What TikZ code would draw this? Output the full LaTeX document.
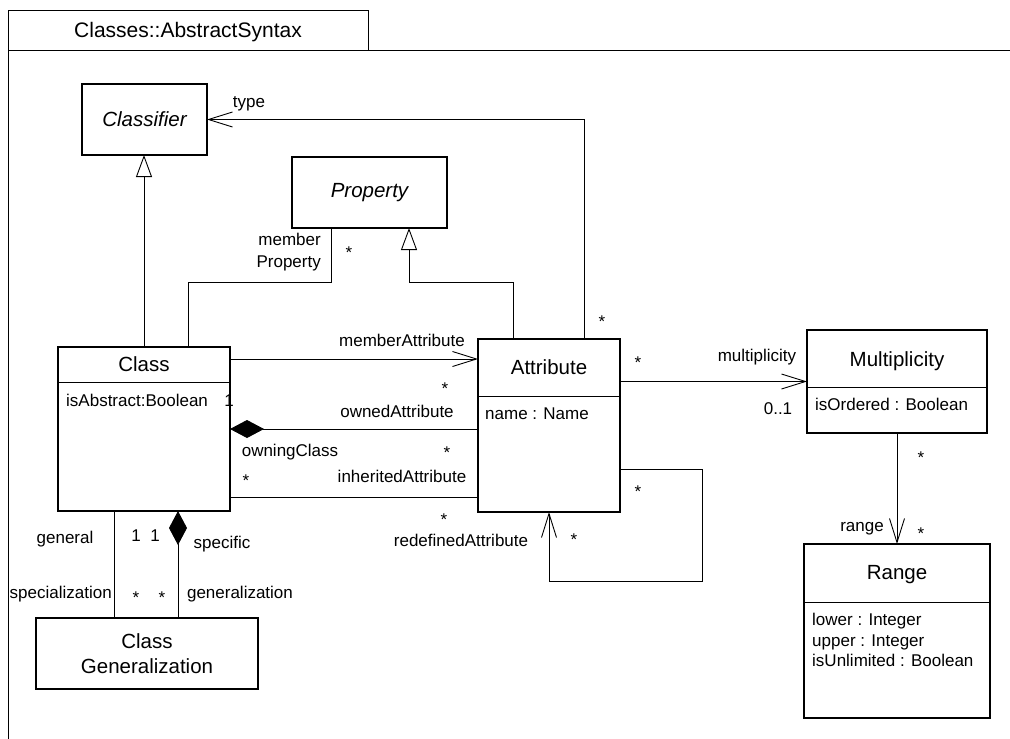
\documentclass[tikz,border=0pt]{standalone}
\usepackage{fontspec}
\setmainfont{Liberation Sans}
\usetikzlibrary{positioning}
\usetikzlibrary{arrows.meta}

\begin{document}
\begin{tikzpicture}[x=1pt, y=-1pt,
  box/.style={draw, line width=1.4pt, anchor=north west, inner sep=0, outer sep=0,
    align=center, font=\fontsize{20.5}{24.6}\selectfont},
  abox/.style={box, font=\itshape\fontsize{20.5}{24.6}\selectfont},
  cname/.style={inner sep=0, anchor=base, font=\fontsize{20.5}{24.6}\selectfont},
  lbl/.style={inner sep=0, anchor=base, font=\fontsize{17}{20.5}\selectfont},
  attrtxt/.style={lbl, anchor=base west},
  compsep/.style={line width=0.9pt},
  frame/.style={line width=0.9pt},
  conn/.style={draw, line width=0.9pt},
  gen/.style={conn, -{Triangle[open, length=22pt, width=16pt]}},
  nav/.style={conn, -{Straight Barb[length=24pt, width=15pt]}},
  compo/.style={conn, {Diamond[length=34pt, width=18pt]}-}]
  \useasboundingbox (0,0) rectangle (1010,739);

  % package frame
  \node[draw, line width=0.9pt, anchor=north west, minimum width=360, minimum height=40,
    inner sep=0, outer sep=0, text depth=0pt, font=\fontsize{21}{25}\selectfont]
    (tab) at (8,10) {Classes::AbstractSyntax};
  \draw[frame] (8,739) -- (tab.south west) -- (1010,50);

  % classes
  \node[abox, minimum width=125, minimum height=71] (classifier) at (82,84) {Classifier};
  \node[abox, minimum width=155, minimum height=71] (prop) at (292,157) {Property};
  \node[box, minimum width=172, minimum height=164] (class) at (58,347) {};
  \node[box, minimum width=142, minimum height=173] (attr) at (478,339) {};
  \node[box, minimum width=180, minimum height=103] (mult) at (807,330) {};
  \node[box, minimum width=186, minimum height=174] (range) at (804,544) {};
  \node[box, minimum width=222, minimum height=71] (cg) at (36,618) {Class\\Generalization};

  \draw[compsep] ([yshift=-35]class.north west) -- ([yshift=-35]class.north east);
  \draw[compsep] ([yshift=-57]attr.north west) -- ([yshift=-57]attr.north east);
  \draw[compsep] ([yshift=-57]mult.north west) -- ([yshift=-57]mult.north east);
  \draw[compsep] ([yshift=-58]range.north west) -- ([yshift=-58]range.north east);

  \node[cname] (classTitle) at (144,371) {Class};
  \node[cname] (attrTitle) at (549,374) {Attribute};
  \node[cname] (multTitle) at (897,366) {Multiplicity};
  \node[cname] (rangeTitle) at (897,579) {Range};

  \node[attrtxt] (classAttr) at (66,406) {isAbstract:Boolean};
  \node[attrtxt] (attrAttr) at (485,419) {name : Name};
  \node[attrtxt] (multAttr) at (815,410) {isOrdered : Boolean};
  \foreach \txt [count=\i] in {lower : Integer, upper : Integer, isUnlimited : Boolean}
    \node[attrtxt] (rangeAttr\i) at (812,605.2+20.5*\i) {\txt};

  % connectors
  \coordinate (ma) at ([yshift=-12]class.north east);
  \coordinate (ia) at ([yshift=-68]class.east);
  \coordinate (ge) at ([xshift=-30]class.south);
  \coordinate (sp) at ([xshift=34]class.south);

  \draw[gen] (class.north) -- (class.north |- classifier.south);
  \draw[conn] ([xshift=44]class.north) |- ([xshift=39,yshift=-54]prop.south west)
    -- ([xshift=39]prop.south west);
  \draw[gen] ([xshift=-36]attr.north) |- ([xshift=117,yshift=-54]prop.south west)
    -- ([xshift=117]prop.south west);
  \draw[nav] ([xshift=35]attr.north) |- (classifier.east);
  \draw[nav] (ma) -- (ma -| attr.west);
  \draw[compo] (class.east) -- (class.east -| attr.west);
  \draw[conn] (ia) -- (ia -| attr.west);
  \draw[nav] ([yshift=-43.5]attr.east) -- ++(82,0) -- ++(0,112) -| (attr.south);
  \draw[nav] (attr.east |- mult.west) -- (mult.west);
  \draw[nav] (mult.south) -- (range.north);
  \draw[conn] (ge) -- (ge |- cg.north);
  \draw[compo] (sp) -- (sp |- cg.north);

  % role names and multiplicities
  \node[lbl] (lType) at (249,107) {type};
  \node[lbl] (mType) at (602,327) {*};
  \node[lbl, anchor=base east] (lMemberA) at (321,245) {member};
  \node[lbl, anchor=base east] (lMemberB) at (321,267) {Property};
  \node[lbl] (mMemberProp) at (349,258) {*};
  \node[lbl] (lMemberAttr) at (402,346) {memberAttribute};
  \node[lbl] (mMemberAttr) at (445,394) {*};
  \node[lbl] (lOwnedAttr) at (397,417) {ownedAttribute};
  \node[lbl] (mOwningClass) at (229,406) {1};
  \node[lbl] (lOwningClass) at (290,456) {owningClass};
  \node[lbl] (mOwnedAttr) at (447,458) {*};
  \node[lbl] (mInheritCls) at (246,486) {*};
  \node[lbl] (lInherited) at (402,482) {inheritedAttribute};
  \node[lbl] (mInherited) at (444,525) {*};
  \node[lbl] (lRedefined) at (461,546) {redefinedAttribute};
  \node[lbl] (mRedefA) at (638,497) {*};
  \node[lbl] (mRedefB) at (574,545) {*};
  \node[lbl] (mMultAttr) at (638,368) {*};
  \node[lbl] (lMultiplicity) at (757,361.5) {multiplicity};
  \node[lbl] (mMultiplicity) at (778,414) {0..1};
  \node[lbl] (mRangeMult) at (921,463) {*};
  \node[lbl, anchor=base east] (lRange) at (884,531.5) {range};
  \node[lbl] (mRange) at (921,539) {*};
  \node[lbl] (lGeneral) at (65,543) {general};
  \node[lbl] (mGeneral) at (136,541) {1};
  \node[lbl] (mSpecific) at (155,541) {1};
  \node[lbl] (lSpecific) at (222,548) {specific};
  \node[lbl, anchor=base east] (lSpecialization) at (112,598) {specialization};
  \node[lbl] (mSpecialization) at (136,603) {*};
  \node[lbl] (mGeneralization) at (162,603) {*};
  \node[lbl] (lGeneralization) at (240,598) {generalization};
\end{tikzpicture}
\end{document}
